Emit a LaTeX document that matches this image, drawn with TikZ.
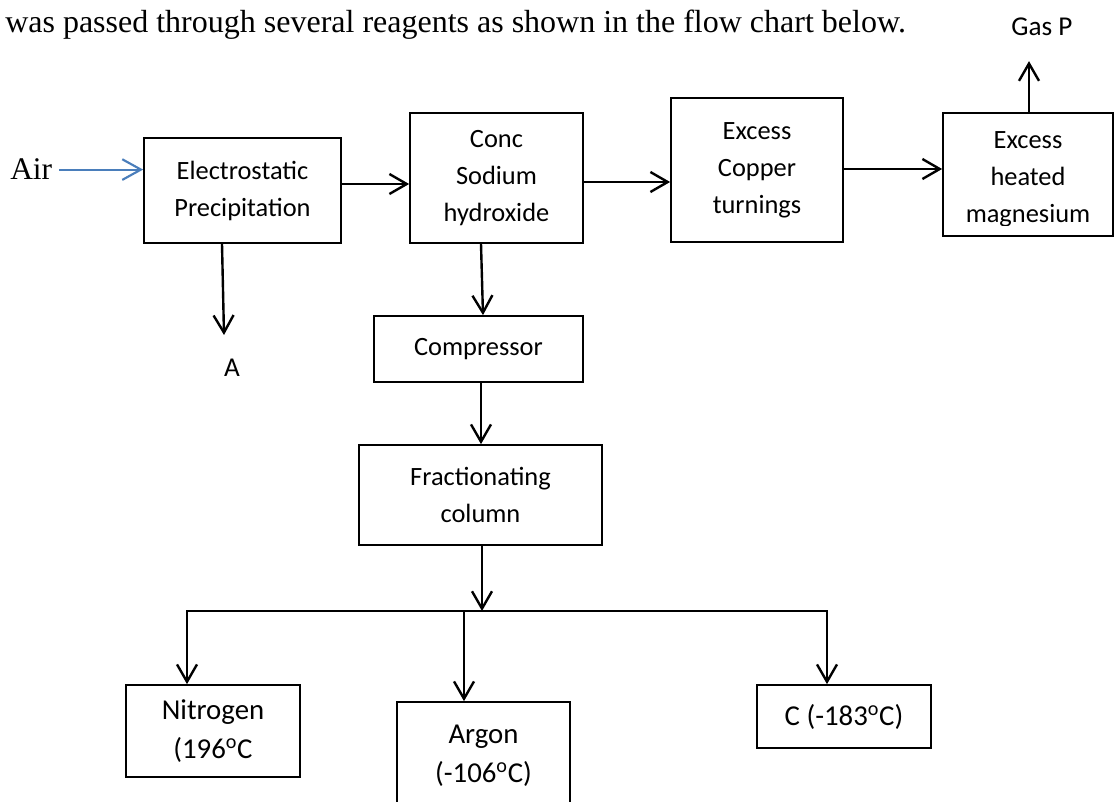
\documentclass[tikz,border=0pt]{standalone}
\usepackage{fontspec}
\setmainfont{Carlito}
\newfontfamily\timesf{Liberation Serif}
\usetikzlibrary{arrows.meta}
\definecolor{airblue}{HTML}{4A7EBB}
\begin{document}
\begin{tikzpicture}[x=0.75pt,y=-0.75pt,
  sz/.style 2 args={minimum width=#1*0.75pt, minimum height=#2*0.75pt},
  box/.style={draw, line width=1.3pt, inner sep=0pt, align=center, font=\fontsize{19.8}{27.75}\selectfont},
  bbox/.style={box, font=\fontsize{21.6}{29.25}\selectfont},
  plain/.style={inner sep=0pt, font=\fontsize{20.4}{24}\selectfont},
  lw/.style={line width=1.8pt},
  arr/.style={lw, -{Straight Barb[length=13pt,width=15pt]}},
  bluearr/.style={draw=airblue, line width=1.6pt, -{Straight Barb[length=14pt,width=15.5pt]}}]
\useasboundingbox (0,0) rectangle (1115,802);
\clip (0,0) rectangle (1115,802);

% texts
\node[anchor=base west, inner sep=0pt, font=\timesf\fontsize{24}{28}\selectfont] (intro) at (5,33)
  {was passed through several reagents as shown in the flow chart below.};
\node[anchor=base west, inner sep=0pt, font=\timesf\fontsize{23.6}{28}\selectfont] (air) at (10,180) {Air};

% boxes
\node[box, sz={197}{105}] (elec) at (242.5,190.5) {Electrostatic\\Precipitation};
\node[box, sz={173}{130}] (conc) at (496.5,178) {Conc\\Sodium\\hydroxide};
\node[box, sz={172}{144}] (copper) at (757,170) {Excess\\Copper\\turnings};
\node[box, sz={170}{123}] (mg) at (1028,174.5) {};
\begin{scope}
  \clip (943,100) rectangle (1115,226);
  \node[box, draw=none] (mgtext) at (1028,179.5) {Excess\\heated\\magnesium};
\end{scope}
\node[plain] (gasp) at (1042,27) {Gas P};
\node[plain] (alabel) at (232,368) {A};
\node[box, sz={209}{66}] (comp) at (478.5,349) {Compressor};
\node[box, sz={243}{100}] (frac) at (480.5,495) {Fractionating\\column};
\node[bbox, sz={174}{92}] (nitro) at (213,731) {Nitrogen\\(196\textsuperscript{o}C};
\node[bbox, sz={173}{108}] (argon) at (483.5,756) {Argon\\(-106\textsuperscript{o}C)};
\node[bbox, sz={174}{63}] (cnode) at (844,716.5) {C (-183\textsuperscript{o}C)};

% coordinates
\coordinate (y184) at (0,184);
\coordinate (y182) at (0,182);
\coordinate (y169) at (0,169);
\coordinate (atip) at (224,335);
\coordinate (junc) at (482,611);
\coordinate (jl) at (187,611);
\coordinate (jm) at (464,611);
\coordinate (jr) at (827,611);

% connectors
\draw[bluearr] ([xshift=5.25pt]air.east) -- (elec.west |- air.east);
\draw[arr] (elec.east |- y184) -- (conc.west |- y184);
\draw[arr] (conc.east |- y182) -- (copper.west |- y182);
\draw[arr] (copper.east |- y169) -- (mg.west |- y169);
\draw[arr] ([xshift=0.75pt]mg.north) -- ++(0,-51);
\draw[arr] ([xshift=-15.375pt]elec.south) -- (atip);
\draw[arr] ([xshift=-11.625pt]conc.south) -- ([xshift=3.375pt]comp.north);
\draw[arr] ([xshift=1.875pt]comp.south) -- ([xshift=0.375pt]frac.north);
\draw[arr] ([xshift=1.125pt]frac.south) -- (junc);
\draw[lw, line cap=rect] (jl) -- (jr);
\draw[arr] (jl) -- (jl |- nitro.north);
\draw[arr] (jm) -- (jm |- argon.north);
\draw[arr] (jr) -- (jr |- cnode.north);
\end{tikzpicture}
\end{document}
